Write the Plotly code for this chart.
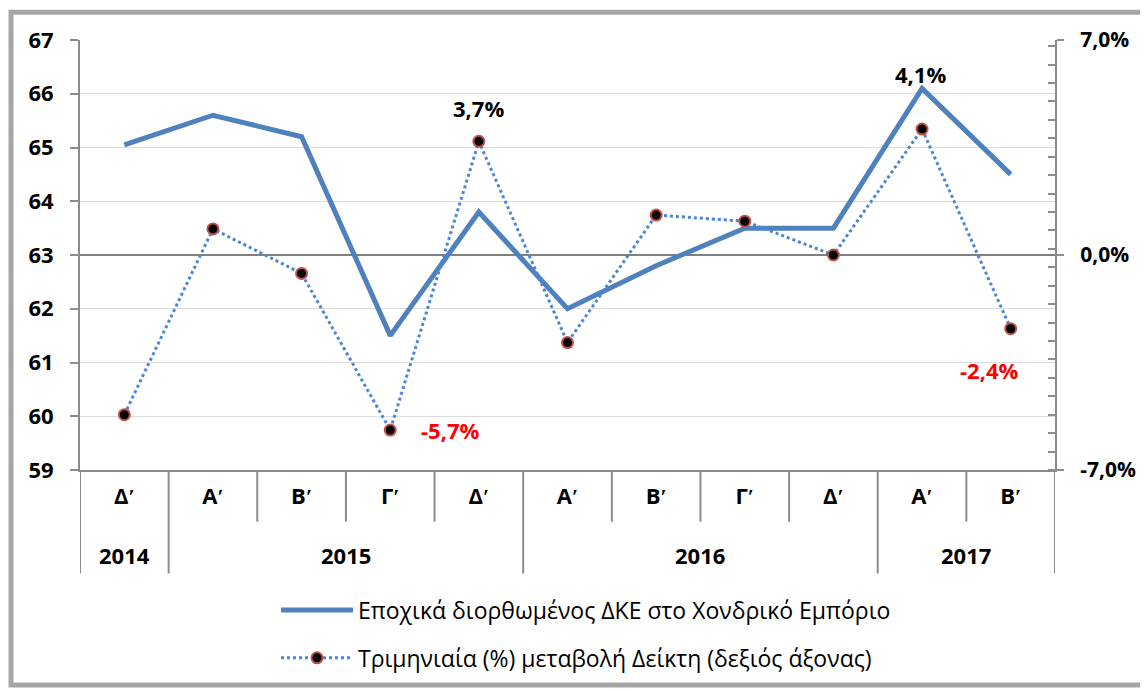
import plotly.graph_objects as go

years = ["2014", "2015", "2015", "2015", "2015", "2016", "2016", "2016", "2016", "2017", "2017"]
quarters = ["Δʹ", "Αʹ", "Βʹ", "Γʹ", "Δʹ", "Αʹ", "Βʹ", "Γʹ", "Δʹ", "Αʹ", "Βʹ"]
index_values = [65.05, 65.6, 65.2, 61.5, 63.8, 62.0, 62.8, 63.5, 63.5, 66.1, 64.5]
pct_change = [-5.2, 0.85, -0.6, -5.7, 3.7, -2.85, 1.3, 1.1, 0.0, 4.1, -2.4]
right_ticks = [-7, 0, 7]
right_ticktext = ["-7,0%", "0,0%", "7,0%"]
# data labels: (point index, text, colour, xshift px, yshift px)
pct_labels = [(3, "-5,7%", "#ff0000", 60, 0),
              (4, "3,7%", "black", 0, 33),
              (9, "4,1%", "black", -2, 55),
              (10, "-2,4%", "#ff0000", -21, -41)]

name1 = "Εποχικά διορθωμένος ΔΚΕ στο Χονδρικό Εμπόριο"
name2 = "Τριμηνιαία (%) μεταβολή Δείκτη (δεξιός άξονας)"

FONT = "Open Sans"
GRAY = "#8c8c8c"

n = len(quarters)
xpos = list(range(n))

fig = go.Figure()
fig.add_trace(go.Scatter(
    x=xpos, y=index_values, name=name1, mode="lines",
    line=dict(color="#4f81bd", width=5), legendgroup="a",
))
fig.add_trace(go.Scatter(
    x=xpos, y=pct_change, name=name2, yaxis="y2",
    mode="lines+markers", legendgroup="b",
    line=dict(color="#4a86d8", width=3, dash="dot"),
    marker=dict(color="black", size=11, line=dict(color="#c0504d", width=2)),
))

# page has an 8px body margin: figure drawn at (8, 8)
OFF = 8
W, H = 1140, 683
L, R, T, B = 72, 93, 32, 219
pw, ph = W - L - R, H - T - B

def px(x_page):
    return (x_page - OFF - L) / pw

def py(y_page):
    return (H - B - (y_page - OFF)) / ph

# outer frame
fig.add_shape(type="rect", xref="paper", yref="paper",
              x0=px(11), x1=px(1145), y0=py(688), y1=py(12),
              line=dict(color="#a6a6a6", width=5), layer="below")

# category boundaries (short) and year-group dividers (long)
group_edges = [-0.5] + [i + 0.5 for i in range(n - 1) if years[i] != years[i + 1]] + [n - 0.5]
for i in range(n + 1):
    b = i - 0.5
    long = b in group_edges
    fig.add_shape(type="line", xref="x", yref="paper", x0=b, x1=b,
                  y0=0, y1=py(576) if long else py(524),
                  line=dict(color=GRAY, width=2))

# year labels centred under their groups
for k in range(len(group_edges) - 1):
    a, b = group_edges[k], group_edges[k + 1]
    fig.add_annotation(x=(a + b) / 2, xref="x", y=py(557), yref="paper", yanchor="middle",
                       text=years[int(a + 0.5)], showarrow=False,
                       font=dict(size=22, family=FONT, weight="bold", color="black"))

# data labels
for i, txt, col, dx, dy in pct_labels:
    fig.add_annotation(x=xpos[i], y=pct_change[i], xref="x", yref="y2", text=txt,
                       showarrow=False, xshift=dx, yshift=dy,
                       font=dict(size=22, family=FONT, weight="bold", color=col))

fig.update_layout(
    width=W, height=H,
    margin=dict(l=L, r=R, t=T, b=B),
    paper_bgcolor="white", plot_bgcolor="white",
    separators=",.",
    font=dict(family=FONT, color="black"),
    showlegend=True,
    legend=dict(x=px(276), y=py(591), xanchor="left", yanchor="top",
                font=dict(size=23, family=FONT), itemwidth=72,
                traceorder="grouped", tracegroupgap=15, bgcolor="rgba(0,0,0,0)"),
    xaxis=dict(
        range=[-0.5, n - 0.5], tickvals=xpos, ticktext=quarters,
        showline=True, linecolor=GRAY, linewidth=2, ticks="",
        tickfont=dict(size=22, weight="bold", family=FONT),
        ticklabelstandoff=6, showgrid=False, zeroline=False,
    ),
    yaxis=dict(
        range=[59, 67], dtick=1, showgrid=True, gridcolor="#dcdcdc", gridwidth=1,
        showline=True, linecolor=GRAY, linewidth=2,
        ticks="outside", ticklen=8, tickcolor=GRAY, tickwidth=2,
        tickfont=dict(size=22, weight="bold", family=FONT), ticklabelstandoff=12,
        zeroline=False,
    ),
    yaxis2=dict(
        overlaying="y", side="right", range=[-7, 7],
        tickvals=right_ticks, ticktext=right_ticktext,
        showline=True, linecolor=GRAY, linewidth=2,
        ticks="outside", ticklen=7, tickcolor=GRAY, tickwidth=2,
        minor=dict(ticks="inside", ticklen=7, tick0=-7, dtick=0.6, tickcolor=GRAY, tickwidth=1.5, showgrid=False),
        showgrid=False, zeroline=True, zerolinecolor="#7f7f7f", zerolinewidth=2,
        tickfont=dict(size=21, weight="bold", family=FONT), ticklabelstandoff=12,
    ),
)

fig.write_html("out.html")
